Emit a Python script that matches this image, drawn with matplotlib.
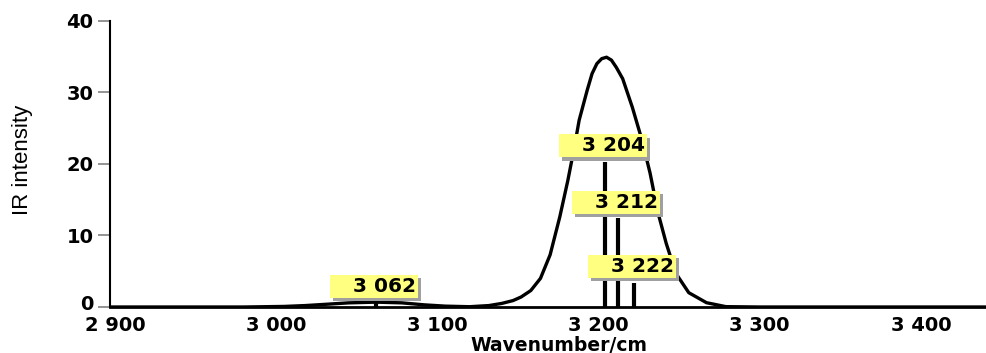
import matplotlib
matplotlib.use("Agg")
import matplotlib.pyplot as plt
import matplotlib.patheffects as pe
import matplotlib.transforms as mtransforms

# Broadened spectrum
curve_x = [2897, 2980, 3005, 3018, 3031, 3045, 3062, 3078, 3092, 3105, 3120, 3132,
           3140, 3147, 3152, 3158, 3164, 3170, 3176, 3181, 3185, 3188, 3193, 3196,
           3199, 3202, 3205, 3208, 3211, 3215, 3221, 3227, 3232, 3237, 3242, 3248,
           3256, 3267, 3279, 3300, 3441]
curve_y = [0, 0, 0.08, 0.2, 0.38, 0.58, 0.68, 0.58, 0.3, 0.12, 0.04, 0.2,
           0.5, 0.9, 1.4, 2.3, 4.0, 7.3, 12.6, 17.7, 22.3, 26.1, 30.3, 32.6,
           34.0, 34.7, 34.9, 34.5, 33.5, 31.9, 27.9, 23.3, 18.7, 13.1, 8.9, 4.7,
           2.0, 0.6, 0.05, 0, 0]

# Stick spectrum
stick_x = [3062, 3204, 3212, 3222]
stick_y = [0.7, 20.3, 12.4, 3.4]
stick_labels = ["3 062", "3 204", "3 212", "3 222"]

xticks = [2900, 3000, 3100, 3200, 3300, 3400]
xtick_labels = ["2 900", "3 000", "3 100", "3 200", "3 300", "3 400"]
yticks = [0, 10, 20, 30, 40]

fig = plt.figure(figsize=(9.87, 3.53), dpi=100)
ax = fig.add_axes([0.1115, 0.1303, 0.8885, 0.811])

ax.plot(curve_x, curve_y, color="black", lw=2.4, solid_joinstyle="round",
        solid_capstyle="round", zorder=3)
ax.vlines(stick_x, 0, stick_y, color="black", lw=3.0, zorder=4)

for x, h, lab in zip(stick_x, stick_y, stick_labels):
    txt = "   " + lab
    t = ax.annotate(txt, xy=(x, h), xytext=(-1.5, 4.5), textcoords="offset points",
                    ha="center", va="bottom", fontsize=14.5, fontweight="bold",
                    color="black", zorder=6,
                    bbox=dict(boxstyle="square,pad=0.1", fc="#ffff80", ec="none"))
    t.get_bbox_patch().set_path_effects([
        pe.SimplePatchShadow(offset=(2.2, -2.2), shadow_rgbFace="#a0a0a0", alpha=1.0),
        pe.Normal(),
    ])

ax.set_xlim(2897, 3441)
ax.set_ylim(0, 40)
ax.set_xticks(xticks)
ax.set_xticklabels(xtick_labels)
ax.set_yticks(yticks)

for s in ["top", "right"]:
    ax.spines[s].set_visible(False)
ax.spines["left"].set_linewidth(1.5)
ax.spines["bottom"].set_linewidth(2.0)

ax.tick_params(axis="x", length=0, pad=6.5, labelsize=14)
ax.tick_params(axis="y", length=9, width=1.2, color="#808080", pad=3, labelsize=14)
for lbl in ax.get_xticklabels() + ax.get_yticklabels():
    lbl.set_fontweight("bold")

# nudge the "0" label up slightly so it doesn't collide with "2 900"
zero_lbl = ax.yaxis.get_major_ticks()[0].label1
zero_lbl.set_transform(zero_lbl.get_transform() +
                       mtransforms.ScaledTranslation(0, 3 / 72, fig.dpi_scale_trans))

ax.set_xlabel("Wavenumber/cm", fontsize=13.5, fontweight="bold", va="center")
ax.xaxis.set_label_coords(0.512, -0.133)
ax.set_ylabel("IR intensity", fontsize=16, family=["Liberation Sans", "DejaVu Sans"],
              va="center")
ax.yaxis.set_label_coords(-0.100, 0.513)

fig.savefig("out.png", dpi=100)
